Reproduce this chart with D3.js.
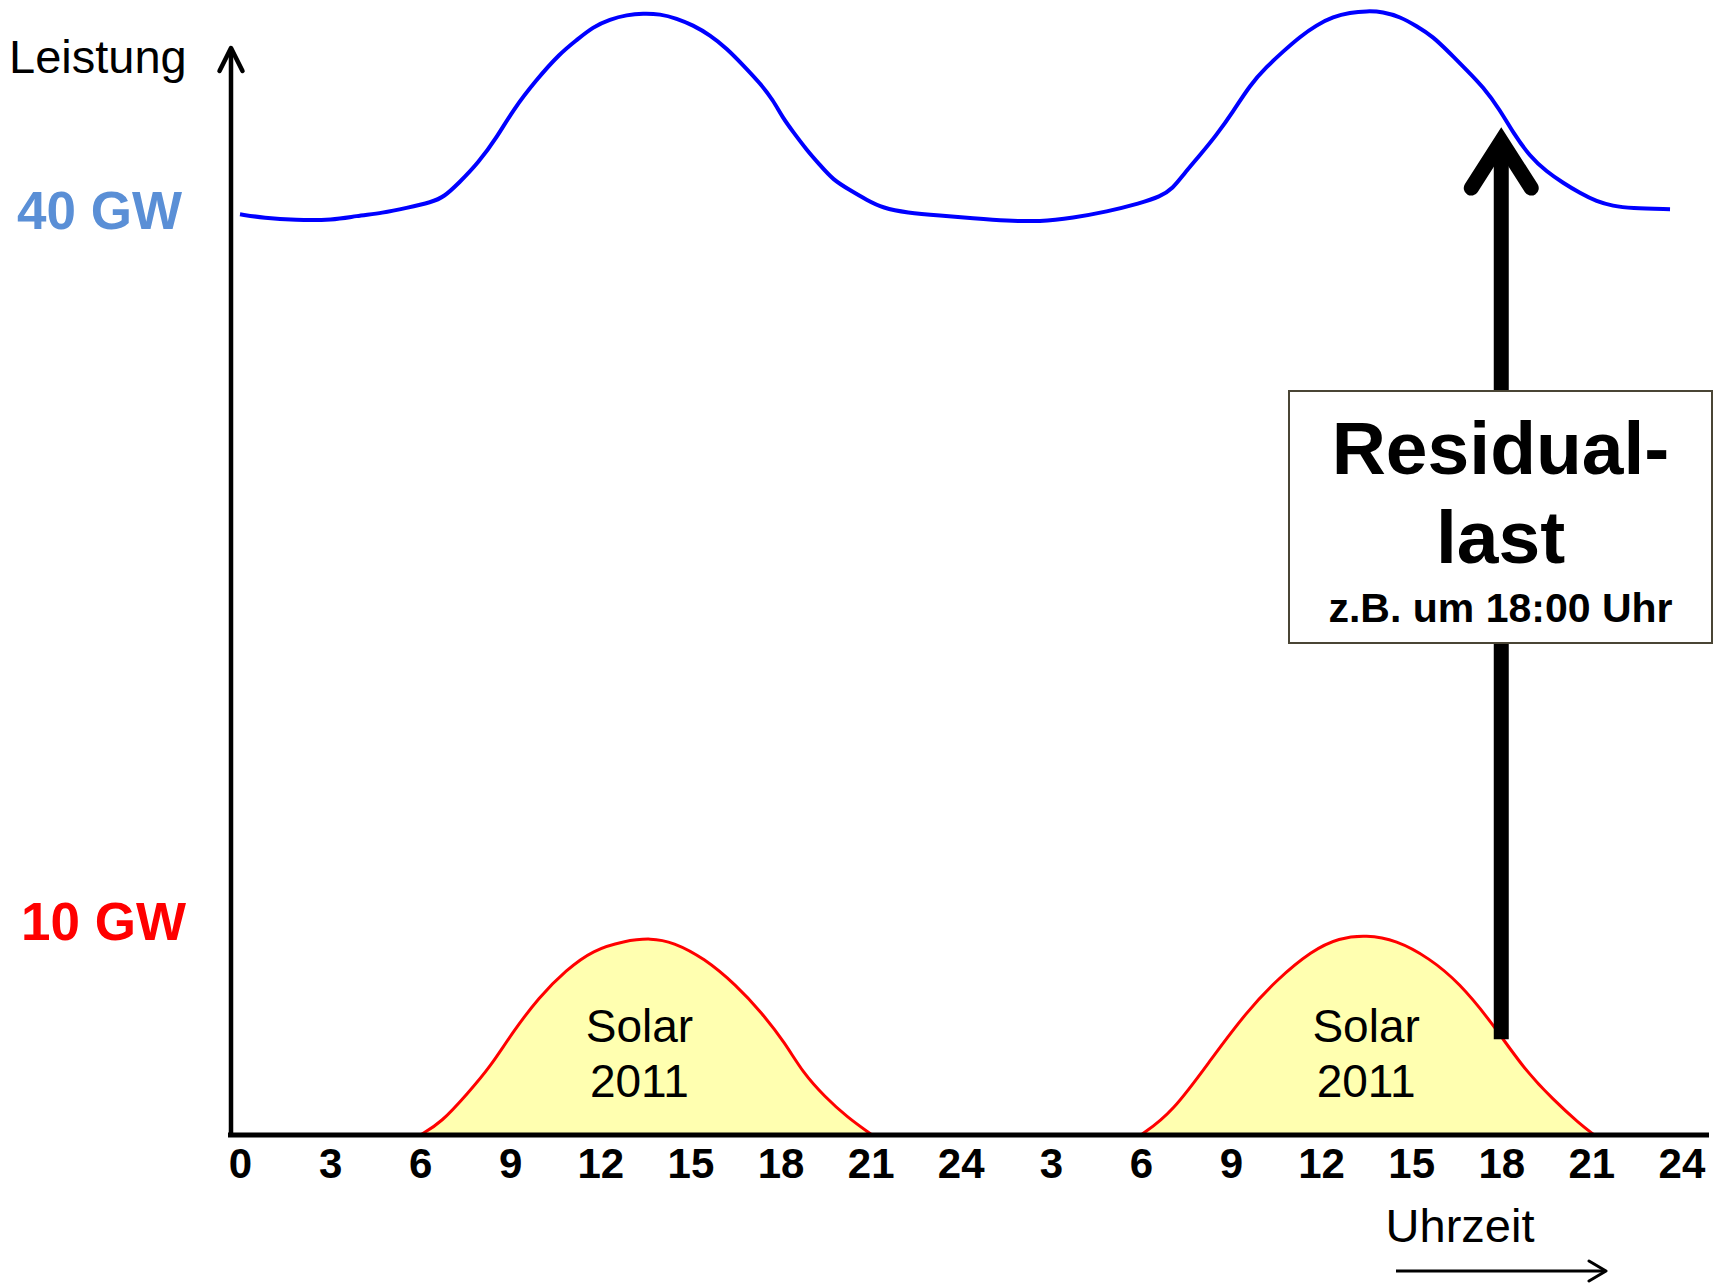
<!DOCTYPE html>
<html>
<head>
<meta charset="utf-8">
<script src="https://cdn.jsdelivr.net/npm/d3@7"></script>
<style>
  html, body { margin: 0; padding: 0; background: #ffffff; }
  svg { display: block; }
  text { font-family: "Liberation Sans", Arial, Helvetica, sans-serif; }
</style>
</head>
<body>
<svg id="chart" width="1720" height="1283"></svg>
<script>
// Two days of grid load (blue) and 2011 solar feed-in (red), hours 0..48, values in GW
const loadHours = [0, 0.8, 1.83, 3.1, 3.86, 4.76, 5.53, 6.39, 6.79, 7.29, 7.93, 8.56, 9.09, 9.86,
  10.66, 11.21, 11.75, 12.32, 12.88, 13.42, 13.99, 14.54, 15.08, 15.65, 16.21, 16.75, 17.32,
  17.75, 18.08, 18.42, 18.87, 19.31, 19.75, 20.31, 20.87, 21.41, 22.2, 23.31, 24.41, 25.53,
  26.64, 27.74, 28.86, 29.97, 30.64, 31.07, 31.4, 31.97, 32.52, 33.07, 33.63, 34.19, 34.73,
  35.3, 35.85, 36.4, 36.96, 37.52, 38.06, 38.63, 39.18, 39.73, 40.29, 40.85, 41.39, 41.96,
  42.4, 42.96, 43.51, 44.06, 44.62, 45.18, 45.72, 46.29, 47.62];
const loadGW = [39.9, 39.74, 39.65, 39.65, 39.83, 39.96, 40.17, 40.43, 40.65, 41.26, 42.12, 43.25,
  44.42, 45.72, 46.88, 47.45, 48.02, 48.35, 48.54, 48.61, 48.58, 48.39, 48.1, 47.67, 47.09,
  46.37, 45.58, 44.85, 44.07, 43.47, 42.69, 42.04, 41.39, 40.95, 40.52, 40.17, 39.97, 39.84,
  39.73, 39.62, 39.58, 39.75, 40.01, 40.38, 40.66, 41.03, 41.6, 42.47, 43.34, 44.35, 45.5,
  46.3, 46.95, 47.6, 48.1, 48.46, 48.64, 48.71, 48.68, 48.46, 48.06, 47.6, 46.88, 46.15,
  45.43, 44.42, 43.42, 42.4, 41.75, 41.26, 40.82, 40.45, 40.26, 40.16, 40.12];

const solarDay1Hours = [6.0, 6.69, 7.59, 8.33, 9.06, 9.96, 10.86, 11.76, 12.79, 13.69, 14.42,
  15.45, 16.52, 17.38, 18.15, 18.75, 19.48, 20.21, 21.05];
const solarDay1GW = [0, 0.52, 1.82, 2.95, 4.42, 5.98, 7.15, 8.02, 8.41, 8.54, 8.36, 7.67, 6.5,
  5.29, 3.99, 2.69, 1.65, 0.78, 0];
const solarDay2Hours = [30.0, 31.04, 32.4, 33.5, 34.5, 35.7, 36.6, 37.5, 38.5, 39.6, 40.6, 41.7,
  42.7, 43.75, 44.6, 45.1];
const solarDay2GW = [0, 0.95, 3.4, 5.3, 6.7, 8.0, 8.54, 8.67, 8.45, 7.67, 6.6, 4.85, 2.95, 1.5,
  0.5, 0];

const tickHours = [0, 3, 6, 9, 12, 15, 18, 21, 24, 27, 30, 33, 36, 39, 42, 45, 48];
const solarLabelHours = [13.3, 37.5];
const solarLabelLines = ["Solar", "2011"];
const valueLabels = ["40 GW", "10 GW"];
const valueLabelGW = [40, 10];
const residualHour = 42; // 18:00 on the second day
const residualLines = ["Residual-", "last", "z.B. um 18:00 Uhr"];

const svg = d3.select("#chart");
const FONT = '"Liberation Sans", Arial, Helvetica, sans-serif';

const x = d3.scaleLinear().domain([0, 48]).range([240, 240 + 48 * 30.03]);
const y = d3.scaleLinear().domain([0, 40]).range([1135, 212]);
const axisX = 231; // vertical axis sits just left of hour 0

const zip = (hs, vs) => hs.map((h, i) => ({ h, v: vs[i] }));
const load = zip(loadHours, loadGW);
const solarDays = [zip(solarDay1Hours, solarDay1GW), zip(solarDay2Hours, solarDay2GW)];

// Solar areas
const area = d3.area().x(d => x(d.h)).y0(y(0)).y1(d => y(d.v)).curve(d3.curveBasis);
const sLine = d3.line().x(d => x(d.h)).y(d => y(d.v)).curve(d3.curveBasis);
svg.append("g").selectAll("path").data(solarDays).join("path")
  .attr("d", area).attr("fill", "#ffffb0").attr("stroke", "none");
svg.append("g").selectAll("path").data(solarDays).join("path")
  .attr("d", sLine).attr("fill", "none").attr("stroke", "#ff0000").attr("stroke-width", 3);

// Load curve
svg.append("path").datum(load)
  .attr("d", d3.line().x(d => x(d.h)).y(d => y(d.v)).curve(d3.curveBasis))
  .attr("fill", "none").attr("stroke", "#0000ff").attr("stroke-width", 4);

// Solar labels
solarLabelHours.forEach(h => {
  const t = svg.append("text").attr("text-anchor", "middle")
    .attr("font-size", 46).attr("fill", "#000");
  solarLabelLines.forEach((s, i) => {
    t.append("tspan").attr("x", x(h)).attr("y", 1042 + i * 55).text(s);
  });
});

// Axes
svg.append("line").attr("x1", axisX - 3).attr("x2", 1709).attr("y1", y(0)).attr("y2", y(0))
  .attr("stroke", "#000").attr("stroke-width", 5);
svg.append("line").attr("x1", axisX).attr("x2", axisX).attr("y1", y(0) + 2).attr("y2", 49)
  .attr("stroke", "#000").attr("stroke-width", 4.5);
svg.append("path").attr("d", `M${axisX - 11.5},71 L${axisX},48 L${axisX + 11.5},71`)
  .attr("fill", "none").attr("stroke", "#000").attr("stroke-width", 4.5)
  .attr("stroke-linecap", "round").attr("stroke-linejoin", "round");

const xAxis = d3.axisBottom(x).tickValues(tickHours).tickSize(0)
  .tickFormat(h => h === 0 ? "0" : (h % 24 === 0 ? "24" : String(h % 24)));
const gx = svg.append("g").attr("transform", `translate(0,${y(0)})`).call(xAxis);
gx.select(".domain").remove();
gx.selectAll("text").attr("y", 43).attr("dy", null)
  .attr("font-family", FONT).attr("font-size", 42).attr("font-weight", "bold").attr("fill", "#000");

// Axis titles
svg.append("text").attr("x", 9).attr("y", 73).attr("font-size", 47).attr("fill", "#000").text("Leistung");
svg.append("text").attr("x", 1460).attr("y", 1242).attr("text-anchor", "middle")
  .attr("font-size", 47).attr("fill", "#000").text("Uhrzeit");
svg.append("line").attr("x1", 1396).attr("x2", 1605).attr("y1", 1271).attr("y2", 1271)
  .attr("stroke", "#000").attr("stroke-width", 3);
svg.append("path").attr("d", "M1589,1261 L1606,1271 L1589,1281")
  .attr("fill", "none").attr("stroke", "#000").attr("stroke-width", 3)
  .attr("stroke-linecap", "round").attr("stroke-linejoin", "round");

// Value labels beside the vertical axis
const labelColors = ["#5a8fd6", "#ff0000"];
const labelShift = [17, 36];
valueLabels.forEach((s, i) => {
  svg.append("text").attr("x", i === 0 ? 17 : 21).attr("y", y(valueLabelGW[i]) + labelShift[i])
    .attr("font-size", 53).attr("font-weight", "bold").attr("fill", labelColors[i]).text(s);
});

// Residual load arrow at 18:00: from solar feed-in up to the load curve
const interp = (pts, h) => {
  const i = d3.bisector(d => d.h).left(pts, h);
  if (i <= 0) return pts[0].v;
  if (i >= pts.length) return pts[pts.length - 1].v;
  const a = pts[i - 1], b = pts[i];
  return a.v + (b.v - a.v) * (h - a.h) / (b.h - a.h);
};
const rx = x(residualHour);
const yBottom = y(interp(solarDays[1], residualHour)) + 3;
const yTop = y(interp(load, residualHour)) + 29;
svg.append("line").attr("x1", rx).attr("x2", rx).attr("y1", yBottom).attr("y2", yTop + 6)
  .attr("stroke", "#000").attr("stroke-width", 15);
svg.append("path").attr("d", `M${rx - 30},${yTop + 47} L${rx},${yTop} L${rx + 30},${yTop + 47}`)
  .attr("fill", "none").attr("stroke", "#000").attr("stroke-width", 15)
  .attr("stroke-linecap", "round").attr("stroke-linejoin", "miter").attr("stroke-miterlimit", 10);

// Annotation box
svg.append("rect").attr("x", 1289).attr("y", 391).attr("width", 423).attr("height", 252)
  .attr("fill", "#fff").attr("stroke", "#4a4535").attr("stroke-width", 2);
const boxCx = 1500.5;
svg.append("text").attr("x", boxCx).attr("y", 474).attr("text-anchor", "middle")
  .attr("font-size", 75).attr("font-weight", "bold").attr("fill", "#000").text(residualLines[0]);
svg.append("text").attr("x", boxCx).attr("y", 563).attr("text-anchor", "middle")
  .attr("font-size", 75).attr("font-weight", "bold").attr("fill", "#000").text(residualLines[1]);
svg.append("text").attr("x", boxCx).attr("y", 622).attr("text-anchor", "middle")
  .attr("font-size", 41).attr("font-weight", "bold").attr("fill", "#000").text(residualLines[2]);
</script>
</body>
</html>
